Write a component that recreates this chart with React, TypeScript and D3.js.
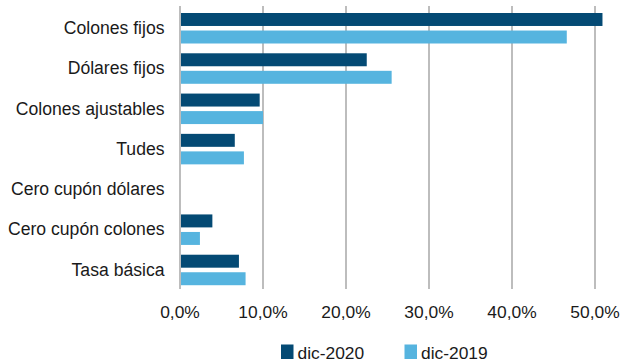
import React from "react";
import * as d3 from "d3";

const categories = [
  "Colones fijos",
  "Dólares fijos",
  "Colones ajustables",
  "Tudes",
  "Cero cupón dólares",
  "Cero cupón colones",
  "Tasa básica",
];
const series = ["dic-2020", "dic-2019"];
const dic2020 = [0.509, 0.225, 0.096, 0.066, 0.0, 0.039, 0.071];
const dic2019 = [0.466, 0.255, 0.1, 0.077, 0.0, 0.024, 0.079];
const xTicks = [0, 0.1, 0.2, 0.3, 0.4, 0.5];
const colors = ["#044a74", "#56b4df"];

const W = 621;
const H = 362;

export default function App() {
  const x = d3.scaleLinear().domain([0, 0.5]).range([180, 595]);
  const y = d3.scaleBand<string>().domain(categories).range([6, 288]);
  const inner = d3
    .scaleBand<string>()
    .domain(series)
    .range([7, 37.5])
    .paddingInner(0.26);
  const values = [dic2020, dic2019];
  const fmt = (v: number) => (v * 100).toFixed(1).replace(".", ",") + "%";
  const font = "'Liberation Sans', Arial, sans-serif";
  const legendX = [281, 404.5];

  return (
    <svg
      width={W}
      height={H}
      style={{ position: "absolute", left: 0, top: 0, background: "#fff" }}
      fontFamily={font}
    >
      {xTicks.map((t) => (
        <line
          key={"g" + t}
          x1={x(t)}
          x2={x(t)}
          y1={6}
          y2={289}
          stroke="#bdbdbd"
          strokeWidth={2}
        />
      ))}
      {categories.map((c, i) => (
        <g key={c}>
          {series.map((s, j) => (
            <rect
              key={s}
              x={x(0) + 1}
              y={(y(c) as number) + (inner(s) as number)}
              width={Math.max(0, x(values[j][i]) - x(0) - 1)}
              height={inner.bandwidth()}
              fill={colors[j]}
            />
          ))}
          <text
            x={164.5}
            y={(y(c) as number) + 22}
            dominantBaseline="central"
            textAnchor="end"
            fontSize={17.6}
            fill="#1a1a1a"
          >
            {c}
          </text>
        </g>
      ))}
      {xTicks.map((t) => (
        <text
          key={"t" + t}
          x={x(t)}
          y={318}
          textAnchor="middle"
          fontSize={17.4}
          fill="#1a1a1a"
        >
          {fmt(t)}
        </text>
      ))}
      {series.map((s, j) => {
        const lx = legendX[j];
        return (
          <g key={"l" + s}>
            <rect x={lx} y={344.5} width={12.5} height={14.5} fill={colors[j]} />
            <text x={lx + 16.5} y={359} fontSize={17.4} fill="#1a1a1a">
              {s}
            </text>
          </g>
        );
      })}
    </svg>
  );
}
